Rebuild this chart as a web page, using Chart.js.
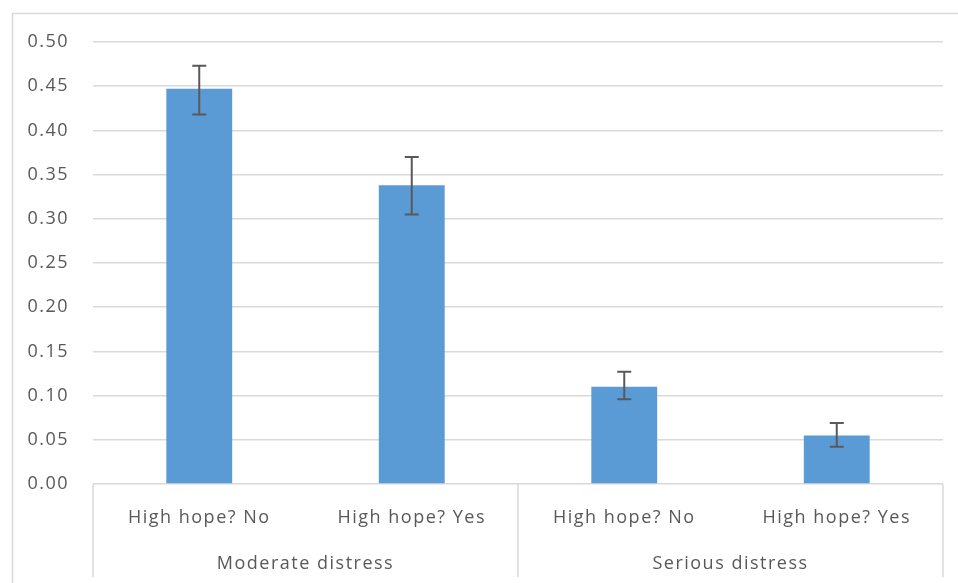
<!DOCTYPE html>
<html>
<head>
<meta charset="utf-8">
<script src="https://cdn.jsdelivr.net/npm/chart.js@4.4.1/dist/chart.umd.min.js"></script>
<style>
html,body{margin:0;padding:0;background:#fff;}
#wrap{width:958px;height:583px;position:relative;}
</style>
</head>
<body>
<div id="wrap"><canvas id="c" width="958" height="583"></canvas></div>
<script>
const categories = ['High hope? No', 'High hope? Yes', 'High hope? No', 'High hope? Yes'];
const groups = ['Moderate distress', 'Serious distress'];
const groupSizes = [2, 2];
const values = [0.447, 0.338, 0.110, 0.055];
const errLow = [0.418, 0.305, 0.096, 0.042];
const errHigh = [0.473, 0.370, 0.127, 0.069];

const TEXT = '#595959';
const FONT = "'Open Sans', 'Liberation Sans', sans-serif";
const SPACING = '1.5px';

function setSpacing(chart){ try { chart.ctx.letterSpacing = SPACING; } catch(e){} }

const spacingPlugin = {
  id: 'spacing',
  beforeInit: setSpacing,
  beforeLayout: setSpacing,
  afterResize: setSpacing,
  beforeDraw: setSpacing
};

const framePlugin = {
  id: 'frame',
  beforeDraw(chart){
    const ctx = chart.ctx;
    ctx.save();
    ctx.fillStyle = '#fff';
    ctx.fillRect(0,0,chart.width,chart.height);
    ctx.strokeStyle = '#d9d9d9';
    ctx.lineWidth = 1.5;
    ctx.strokeRect(12.5, 13.5, chart.width + 20, chart.height + 20);
    ctx.restore();
  }
};

const errorPlugin = {
  id: 'errorBars',
  afterDatasetsDraw(chart){
    const ctx = chart.ctx;
    const y = chart.scales.y;
    const meta = chart.getDatasetMeta(0);
    ctx.save();
    ctx.strokeStyle = '#595959';
    ctx.lineWidth = 2;
    meta.data.forEach((bar, i) => {
      const x = bar.x;
      const yt = y.getPixelForValue(errHigh[i]);
      const yb = y.getPixelForValue(errLow[i]);
      ctx.beginPath();
      ctx.moveTo(x, yt); ctx.lineTo(x, yb);
      ctx.moveTo(x - 7, yt); ctx.lineTo(x + 7, yt);
      ctx.moveTo(x - 7, yb); ctx.lineTo(x + 7, yb);
      ctx.stroke();
    });
    ctx.restore();
  }
};

const groupPlugin = {
  id: 'groups',
  afterDraw(chart){
    const ctx = chart.ctx;
    const xs = chart.scales.x;
    const area = chart.chartArea;
    const n = categories.length;
    const step = (xs.right - xs.left) / n;
    ctx.save();
    ctx.letterSpacing = SPACING;
    ctx.strokeStyle = '#d9d9d9';
    ctx.lineWidth = 1.5;
    let start = 0;
    const bounds = [xs.getPixelForValue(0) - step/2];
    groupSizes.forEach(s => { start += s; bounds.push(xs.getPixelForValue(start - 1) + step/2); });
    bounds.forEach(b => {
      ctx.beginPath();
      ctx.moveTo(b, area.bottom);
      ctx.lineTo(b, area.bottom + 93);
      ctx.stroke();
    });
    ctx.fillStyle = TEXT;
    ctx.font = "18px " + FONT;
    ctx.textAlign = 'center';
    ctx.textBaseline = 'middle';
    groups.forEach((g, i) => {
      ctx.fillText(g, (bounds[i] + bounds[i+1]) / 2, area.bottom + 80);
    });
    ctx.restore();
  }
};

new Chart(document.getElementById('c'), {
  type: 'bar',
  data: {
    labels: categories,
    datasets: [{
      data: values,
      backgroundColor: '#5b9bd5',
      borderWidth: 0,
      categoryPercentage: 1.0,
      barPercentage: 0.31
    }]
  },
  options: {
    responsive: false,
    animation: false,
    devicePixelRatio: 1,
    layout: { padding: { left: 0, top: 42, right: 15, bottom: 0 } },
    plugins: { legend: { display: false }, tooltip: { enabled: false } },
    scales: {
      x: {
        grid: { display: false, drawTicks: false },
        border: { display: false },
        ticks: { color: TEXT, font: { family: FONT, size: 18 }, padding: 23, maxRotation: 0, autoSkip: false },
        afterFit(s){ s.height = 99; }
      },
      y: {
        min: 0, max: 0.5,
        grid: { color: '#d9d9d9', lineWidth: 1.5, drawTicks: false },
        border: { display: false },
        ticks: {
          stepSize: 0.05,
          color: TEXT,
          font: { family: FONT, size: 18 },
          padding: 24,
          callback: v => Number(v).toFixed(2)
        },
        afterFit(s){ s.width = 93; }
      }
    }
  },
  plugins: [spacingPlugin, framePlugin, errorPlugin, groupPlugin]
});
</script>
</body>
</html>
